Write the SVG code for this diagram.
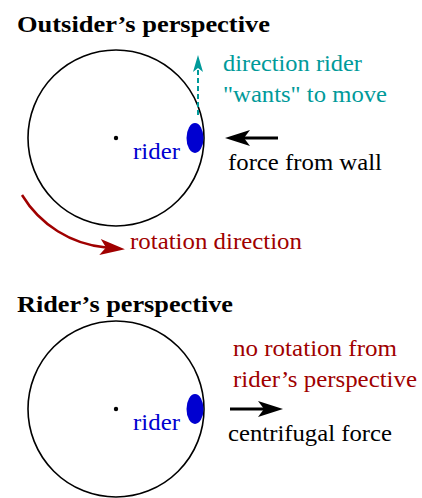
<svg xmlns="http://www.w3.org/2000/svg" width="422" height="498" viewBox="0 0 422 498">
<style>
text{font-family:"Liberation Serif","Times New Roman",serif;font-size:23px}
.title{font-weight:bold}
.teal{fill:#009a9a}
.red{fill:#a00000}
.blue{fill:#0000d0}
.blk{fill:#000}
.wheel{fill:#fff;stroke:#000;stroke-width:1.6}
.rider{fill:#0000d0}
</style>
<defs>
<marker id="hk" markerUnits="userSpaceOnUse" markerWidth="26" markerHeight="18" refX="6" refY="8" orient="auto" overflow="visible"><path d="M25,8 L0,0 L6,8 L0,16 Z" fill="#000"/></marker>
<marker id="hr" markerUnits="userSpaceOnUse" markerWidth="26" markerHeight="18" refX="6" refY="8" orient="auto" overflow="visible"><path d="M25,8 L0,0 L6,8 L0,16 Z" fill="#a00000"/></marker>
<marker id="ht" markerUnits="userSpaceOnUse" markerWidth="18" markerHeight="12" refX="4" refY="5" orient="auto" overflow="visible"><path d="M17,5 L0,0 L4,5 L0,10 Z" fill="#009a9a"/></marker>
</defs>

<g id="outsider">
<text class="title" x="17" y="32" textLength="253" lengthAdjust="spacingAndGlyphs">Outsider’s perspective</text>
<circle class="wheel" cx="116" cy="138" r="88"/>
<circle cx="116" cy="138" r="2.2" fill="#000"/>
<ellipse class="rider" cx="195" cy="138" rx="8.5" ry="15"/>
<text class="blue" x="133" y="159" textLength="47" lengthAdjust="spacingAndGlyphs">rider</text>
<text class="teal" x="223" y="71" textLength="139" lengthAdjust="spacingAndGlyphs">direction rider</text>
<text class="teal" x="223" y="102" textLength="164" lengthAdjust="spacingAndGlyphs">"wants" to move</text>
<text class="blk" x="228" y="170" textLength="154" lengthAdjust="spacingAndGlyphs">force from wall</text>
<text class="red" x="130" y="249" textLength="172" lengthAdjust="spacingAndGlyphs">rotation direction</text>
</g>

<g id="rider-view">
<text class="title" x="17" y="312" textLength="216" lengthAdjust="spacingAndGlyphs">Rider’s perspective</text>
<circle class="wheel" cx="116" cy="409" r="88"/>
<circle cx="116" cy="409" r="2.2" fill="#000"/>
<ellipse class="rider" cx="195" cy="409" rx="8.5" ry="15"/>
<text class="blue" x="133" y="430" textLength="47" lengthAdjust="spacingAndGlyphs">rider</text>
<text class="red" x="233" y="356" textLength="164" lengthAdjust="spacingAndGlyphs">no rotation from</text>
<text class="red" x="233" y="387" textLength="184" lengthAdjust="spacingAndGlyphs">rider’s perspective</text>
<text class="blk" x="228" y="441" textLength="164" lengthAdjust="spacingAndGlyphs">centrifugal force</text>
</g>

<g id="connectors" fill="none">
<path d="M198,115 L198,68" stroke="#009a9a" stroke-width="2" stroke-dasharray="5 3" marker-end="url(#ht)"/>
<path d="M278,138 L244,138" stroke="#000" stroke-width="3" marker-end="url(#hk)"/>
<path d="M22,195 A110,110 0 0,0 106,247.5" stroke="#a00000" stroke-width="2.5" marker-end="url(#hr)"/>
<path d="M230,409 L264,409" stroke="#000" stroke-width="3" marker-end="url(#hk)"/>
</g>
</svg>
